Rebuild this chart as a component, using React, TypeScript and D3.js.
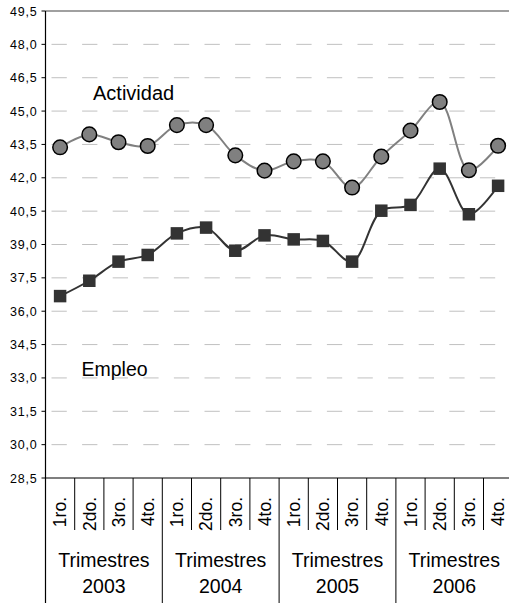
import React, { useRef, useEffect } from "react";
import * as d3 from "d3";

// Categories
const years = ["2003", "2004", "2005", "2006"];
const quarters = ["1ro.", "2do.", "3ro.", "4to."];

// Series values (one per quarter, 2003 1ro. .. 2006 4to.)
const actividad = [
  43.37, 43.95, 43.6, 43.43, 44.37, 44.37, 43.01, 42.32, 42.74, 42.74, 41.56,
  42.95, 44.12, 45.41, 42.34, 43.44,
];
const empleo = [
  36.68, 37.37, 38.23, 38.53, 39.5, 39.76, 38.72, 39.41, 39.23, 39.16, 38.23,
  40.52, 40.78, 42.41, 40.36, 41.64,
];

// Tick labels
const yTicks = [
  28.5, 30.0, 31.5, 33.0, 34.5, 36.0, 37.5, 39.0, 40.5, 42.0, 43.5, 45.0, 46.5,
  48.0, 49.5,
];

const FONT = "'Liberation Sans', Arial, sans-serif";

const App: React.FC = () => {
  const svgRef = useRef<SVGSVGElement | null>(null);

  useEffect(() => {
    const width = 509;
    const height = 603;
    const left = 45.5;
    const right = 512.7;
    const top = 11;
    const bottom = 478;

    d3.select(svgRef.current).selectAll("*").remove();
    const svg = d3
      .select(svgRef.current)
      .attr("width", width)
      .attr("height", height);

    const keys: string[] = [];
    years.forEach((yr) => quarters.forEach((q) => keys.push(`${yr}|${q}`)));

    const x = d3.scaleBand<string>().domain(keys).range([left, right]);
    const y = d3.scaleLinear().domain([28.5, 49.5]).range([bottom, top]);
    const cx = (i: number) => (x(keys[i]) as number) + x.bandwidth() / 2;
    const fmt = (v: number) => d3.format(".1f")(v).replace(".", ",");

    // Gridlines
    svg
      .append("g")
      .selectAll("line")
      .data(yTicks.filter((t) => t > 28.5 && t < 49.5))
      .join("line")
      .attr("x1", left)
      .attr("x2", right)
      .attr("y1", (d) => y(d))
      .attr("y2", (d) => y(d))
      .attr("stroke", "#c0c0c0")
      .attr("stroke-width", 1)
      .attr("stroke-dasharray", "15.3,15.3")
      .attr("stroke-dashoffset", -6);

    // Top border
    svg
      .append("line")
      .attr("x1", left)
      .attr("x2", right)
      .attr("y1", y(49.5))
      .attr("y2", y(49.5))
      .attr("stroke", "#808080")
      .attr("stroke-width", 1.5);

    // Y axis labels + ticks
    const yg = svg.append("g");
    yg.selectAll("line")
      .data(yTicks)
      .join("line")
      .attr("x1", left - 4)
      .attr("x2", left)
      .attr("y1", (d) => y(d))
      .attr("y2", (d) => y(d))
      .attr("stroke", "#000");
    yg.selectAll("text")
      .data(yTicks)
      .join("text")
      .attr("x", left - 8)
      .attr("y", (d) => y(d))
      .attr("dy", "0.36em")
      .attr("text-anchor", "end")
      .style("font-family", FONT)
      .style("font-size", "12.5px")
      .style("letter-spacing", "0.8px")
      .style("fill", "#000")
      .text((d) => fmt(d));

    // Axes lines
    svg
      .append("line")
      .attr("x1", left)
      .attr("x2", left)
      .attr("y1", top)
      .attr("y2", height)
      .attr("stroke", "#000")
      .attr("stroke-width", 1.2);
    svg
      .append("line")
      .attr("x1", left)
      .attr("x2", right)
      .attr("y1", bottom)
      .attr("y2", bottom)
      .attr("stroke", "#000")
      .attr("stroke-width", 1.2);

    // Category table
    const cat = svg.append("g");
    keys.forEach((k, i) => {
      const x0 = x(k) as number;
      const isYearStart = i % 4 === 0;
      if (i > 0) {
        cat
          .append("line")
          .attr("x1", x0)
          .attr("x2", x0)
          .attr("y1", bottom)
          .attr("y2", isYearStart ? height : 530)
          .attr("stroke", "#000")
          .attr("stroke-width", 1);
      }
      cat
        .append("text")
        .attr("transform", `translate(${cx(i)},497) rotate(-90)`)
        .attr("dy", "0.36em")
        .attr("text-anchor", "end")
        .style("font-family", FONT)
        .style("font-size", "17.5px")
        .style("fill", "#000")
        .text(k.split("|")[1]);
    });
    years.forEach((yr) => {
      const x0 = x(`${yr}|${quarters[0]}`) as number;
      const mid = x0 + (x.bandwidth() * 4) / 2;
      cat
        .append("text")
        .attr("x", mid)
        .attr("y", 566.5)
        .attr("text-anchor", "middle")
        .style("font-family", FONT)
        .style("font-size", "19.5px")
        .style("fill", "#000")
        .text("Trimestres");
      cat
        .append("text")
        .attr("x", mid)
        .attr("y", 593)
        .attr("text-anchor", "middle")
        .style("font-family", FONT)
        .style("font-size", "19.5px")
        .style("fill", "#000")
        .text(yr);
    });

    // Lines
    const line = d3
      .line<number>()
      .x((_, i) => cx(i))
      .y((d) => y(d))
      .curve(d3.curveCatmullRom.alpha(0.5));

    svg
      .append("path")
      .datum(actividad)
      .attr("fill", "none")
      .attr("stroke", "#808080")
      .attr("stroke-width", 2)
      .attr("d", line);

    svg
      .append("path")
      .datum(empleo)
      .attr("fill", "none")
      .attr("stroke", "#333333")
      .attr("stroke-width", 2)
      .attr("d", line);

    // Markers
    svg
      .append("g")
      .selectAll("circle")
      .data(actividad)
      .join("circle")
      .attr("cx", (_, i) => cx(i))
      .attr("cy", (d) => y(d))
      .attr("r", 7.3)
      .attr("fill", "#808080")
      .attr("stroke", "#000")
      .attr("stroke-width", 1.5);

    const s = 12.5;
    svg
      .append("g")
      .selectAll("rect")
      .data(empleo)
      .join("rect")
      .attr("x", (_, i) => cx(i) - s / 2)
      .attr("y", (d) => y(d) - s / 2)
      .attr("width", s)
      .attr("height", s)
      .attr("fill", "#333333");

    // Series labels
    svg
      .append("text")
      .attr("x", left + 47.5)
      .attr("y", y(45.5))
      .style("font-family", FONT)
      .style("font-size", "20px")
      .style("fill", "#000")
      .text("Actividad");
    svg
      .append("text")
      .attr("x", left + 36)
      .attr("y", y(33.1))
      .style("font-family", FONT)
      .style("font-size", "19.5px")
      .style("fill", "#000")
      .text("Empleo");
  }, []);

  return (
    <svg
      ref={svgRef}
      style={{ position: "absolute", left: 0, top: 0, background: "#fff" }}
    ></svg>
  );
};

export default App;
